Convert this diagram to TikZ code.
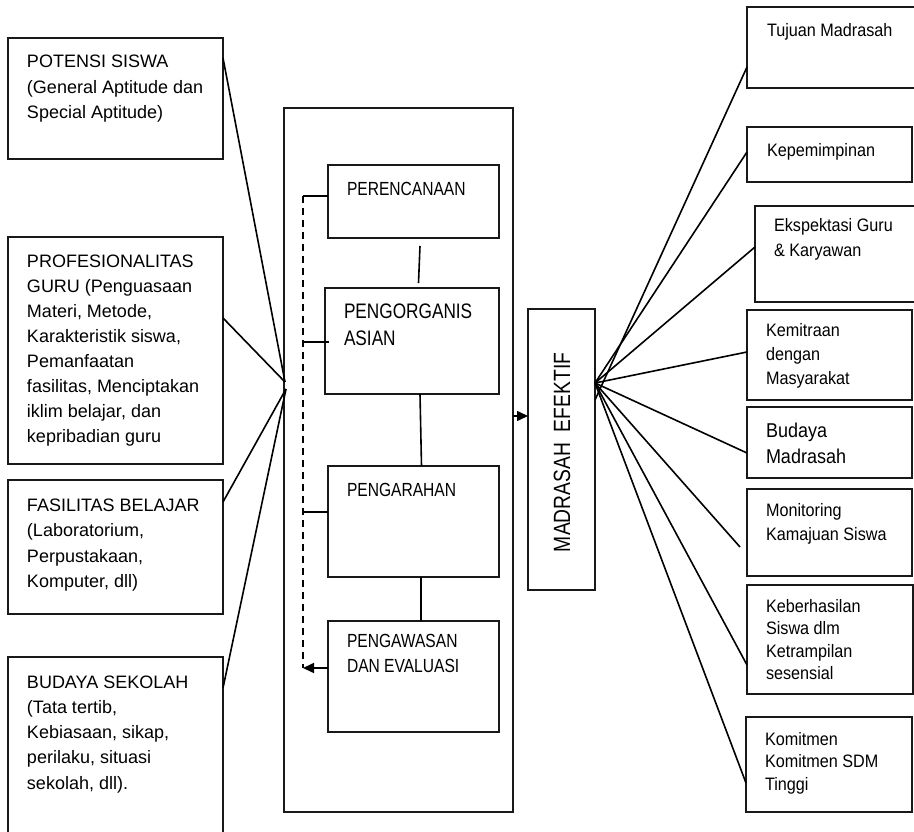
\documentclass[tikz,border=0pt]{standalone}
\usepackage{fontspec}
\setmainfont{Liberation Sans}
\newfontfamily\nf[FakeStretch=0.82]{Liberation Sans}
\newfontfamily\rf[FakeStretch=0.9]{Liberation Sans}
\usetikzlibrary{calc,arrows.meta}
\begin{document}
\begin{tikzpicture}[x=1pt,y=-1pt,
  box/.style={draw=black!90, line width=1.8pt, anchor=north west, inner sep=0pt, outer sep=0pt},
  txt/.style={anchor=base west, align=left, inner sep=0pt, outer sep=0pt, text=black},
  lft/.style={txt, font={\fontsize{18}{25.5}\selectfont}},
  inn/.style={txt, font={\nf\fontsize{19}{25}\selectfont}},
  rgt/.style={txt, font={\rf\fontsize{18}{24}\selectfont}},
  link/.style={draw=black, line width=1.6pt},
  tip/.style={-{Triangle[length=11pt,width=10pt]}}
]
\clip (0,0) rectangle (914,832);
\fill[white] (0,0) rectangle (914,832);

% left boxes
\node[box, minimum width=215pt, minimum height=121pt] (b1) at (8,38) {};
\node[box, minimum width=215pt, minimum height=227pt] (b2) at (8,237) {};
\node[box, minimum width=215pt, minimum height=134pt] (b3) at (8,480) {};
\node[box, minimum width=215pt, minimum height=220pt] (b4) at (8,657) {};
% (multi-line texts are placed by the baseline of their last line)
\node[lft] (t1) at (27,119) {POTENSI SISWA\\(General Aptitude dan\\Special Aptitude)};
\node[lft, font={\fontsize{18}{25.1}\selectfont}] (t2) at (27,442.7) {PROFESIONALITAS\\GURU (Penguasaan\\Materi, Metode,\\Karakteristik siswa,\\Pemanfaatan\\fasilitas, Menciptakan\\iklim belajar, dan\\kepribadian guru};
\node[lft] (t3) at (27,587.5) {FASILITAS BELAJAR\\(Laboratorium,\\Perpustakaan,\\Komputer, dll)};
\node[lft, font={\fontsize{18}{25.3}\selectfont}] (t4) at (27,789.2) {BUDAYA SEKOLAH\\(Tata tertib,\\Kebiasaan, sikap,\\perilaku, situasi\\sekolah, dll).};

% middle
\node[box, minimum width=229pt, minimum height=704pt] (big) at (284,108) {};
\node[box, minimum width=171pt, minimum height=73pt] (p1) at (328,165) {};
\node[box, minimum width=174pt, minimum height=106pt] (p2) at (325,288) {};
\node[box, minimum width=171pt, minimum height=111pt] (p3) at (328,466) {};
\node[box, minimum width=171pt, minimum height=111pt] (p4) at (328,621) {};
\node[inn] (q1) at (347,196) {PERENCANAAN};
\node[inn, font={\nf\fontsize{21}{27}\selectfont}] (q2) at (344,345) {PENGORGANIS\\ASIAN};
\node[inn] (q3) at (347,496) {PENGARAHAN};
\node[inn] (q4) at (347,672) {PENGAWASAN\\DAN EVALUASI};

\draw[link] ([xshift=6.5pt,yshift=-8pt]p1.south) -- ([xshift=6.5pt,yshift=5pt]p2.north);
\draw[link] ([xshift=8pt]p2.south) -- ([xshift=8pt]p3.north);
\draw[link] ([xshift=7.5pt]p3.south) -- ([xshift=7.5pt]p4.north);

\coordinate (fb1) at (303,196);
\coordinate (fb2) at (303,342);
\coordinate (fb3) at (303,512);
\coordinate (fb4) at (303,668);
\draw[link, dash pattern=on 7pt off 5pt] (fb1) -- (fb4);
\draw[link] (fb1) -- (fb1 -| p1.west);
\draw[link] (fb2) -- ([xshift=4pt]fb2 -| p2.west);
\draw[link] (fb3) -- (fb3 -| p3.west);
\draw[link, tip] (fb4 -| p4.west) -- (fb4);

% madrasah efektif
\node[box, minimum width=67pt, minimum height=281pt] (me) at (528,309) {};
\node[txt, rotate=90, font={\nf\fontsize{23.5}{28}\selectfont}] (met) at (570,552) {MADRASAH\ \ EFEKTIF};
\coordinate (ar) at (513,416);
\draw[link, tip] (ar) -- (ar -| me.west);

% left convergence
\coordinate (L) at (285,382);
\coordinate (L2) at (286,389);
\draw[link] ($(b1.north east)+(0,20)$) -- (L);
\draw[link] ($(b2.north east)+(0,81)$) -- (L);
\draw[link] ($(b3.north east)+(0,22)$) -- (L2);
\draw[link] ($(b4.north east)+(0,31)$) -- (L2);

% right boxes
\node[box, minimum width=200pt, minimum height=81pt] (r1) at (747,7) {};
\node[box, minimum width=165pt, minimum height=55pt] (r2) at (747,127) {};
\node[box, minimum width=200pt, minimum height=96pt] (r3) at (755,206) {};
\node[box, minimum width=165pt, minimum height=90pt] (r4) at (747,310) {};
\node[box, minimum width=165pt, minimum height=71pt] (r5) at (747,407) {};
\node[box, minimum width=165pt, minimum height=87pt] (r6) at (747,489) {};
\node[box, minimum width=166pt, minimum height=109pt] (r7) at (747,585) {};
\node[box, minimum width=166pt, minimum height=95pt] (r8) at (746,717) {};

\node[rgt] (s1) at (767,37) {Tujuan Madrasah};
\node[rgt] (s2) at (767,157) {Kepemimpinan};
\node[rgt, font={\rf\fontsize{18}{25}\selectfont}] (s3) at (774,257) {Ekspektasi Guru\\\& Karyawan};
\node[rgt] (s4) at (766,384) {Kemitraan\\dengan\\Masyarakat};
\node[rgt, font={\rf\fontsize{20}{26}\selectfont}] (s5) at (766,463) {Budaya\\Madrasah};
\node[rgt] (s6) at (766,540) {Monitoring\\Kamajuan Siswa};
\node[rgt, font={\rf\fontsize{18}{22.5}\selectfont}] (s7) at (766,679.5) {Keberhasilan\\Siswa dlm\\Ketrampilan\\sesensial};
\node[rgt, font={\rf\fontsize{18}{22.5}\selectfont}] (s8) at (765,790) {Komitmen\\Komitmen SDM\\Tinggi};

% right convergence
\coordinate (R) at (595,383);
\coordinate (R2) at (595,400);
\draw[link] (R2) -- ($(r1.north west)+(0,60)$);
\draw[link] (R) -- ($(r2.north west)+(0,25)$);
\draw[link] (R) -- ($(r3.north west)+(0,41)$);
\draw[link] (R) -- ($(r4.north west)+(0,42)$);
\draw[link] (R) -- ($(r5.north west)+(0,46)$);
\draw[link] (R) -- ($(r6.north west)+(-7,58)$);
\draw[link] (R) -- ($(r7.north west)+(0,80)$);
\draw[link] (R) -- ($(r8.north west)+(0,66)$);
\end{tikzpicture}
\end{document}
